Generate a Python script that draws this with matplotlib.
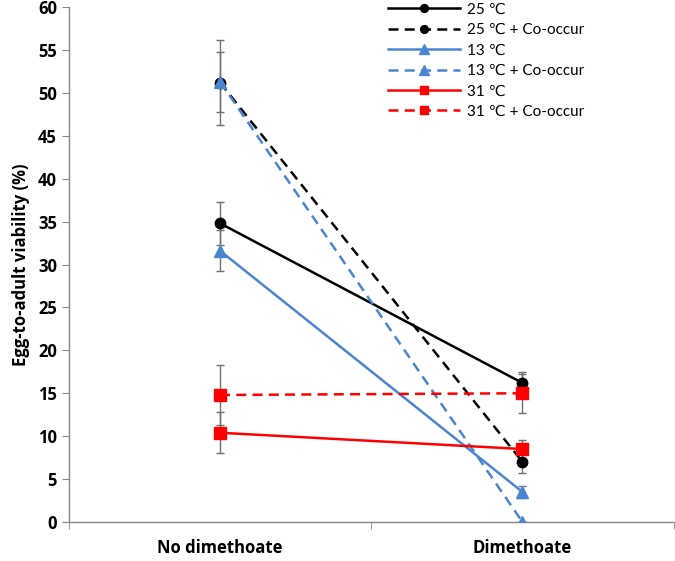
import matplotlib.pyplot as plt
from matplotlib.ticker import FixedLocator

# data
categories = ["No dimethoate", "Dimethoate"]
labels = ["25 ℃", "25 ℃ + Co-occur", "13 ℃", "13 ℃ + Co-occur", "31 ℃", "31 ℃ + Co-occur"]
v25 = [34.8, 16.2]
e25 = [2.5, 1.3]
v25_co = [51.2, 7.0]
e25_co = [5.0, 1.3]
v13 = [31.6, 3.5]
e13 = [2.4, 0.7]
v13_co = [51.3, 0.0]
e13_co = [3.5, 0.0]
v31 = [10.4, 8.5]
e31 = [2.4, 1.0]
v31_co = [14.8, 15.0]
e31_co = [3.5, 2.3]

plt.rcParams["font.family"] = ["Open Sans", "DejaVu Sans"]

fig = plt.figure(figsize=(6.75, 5.61), dpi=100)
ax = fig.add_axes([0.102, 0.0695, 0.896, 0.918])

blue = "#4A86D0"
red = "#FF0000"
series = [
    (v25, e25, "black", "-", "o", 7.5),
    (v25_co, e25_co, "black", "--", "o", 7.5),
    (v13, e13, blue, "-", "^", 9),
    (v13_co, e13_co, blue, "--", "^", 9),
    (v31, e31, red, "-", "s", 8.5),
    (v31_co, e31_co, red, "--", "s", 8.5),
]
x = [0, 1]
for (vals, errs, col, ls, mk, ms), lab in zip(series, labels):
    ax.errorbar(x, vals, yerr=errs, fmt="none", ecolor="#707070",
                elinewidth=1, capsize=3, capthick=1, zorder=2)
    ax.plot(x, vals, color=col, linestyle=ls, linewidth=1.8, marker=mk,
            markersize=ms, label=lab, zorder=3,
            dashes=(4, 2.5) if ls == "--" else (None, None))

ax.set_xlim(-0.5, 1.5)
ax.set_ylim(0, 60)
ax.set_yticks(range(0, 61, 5))
ax.set_xticks(x)
ax.set_xticklabels(categories, fontsize=12, fontweight="bold")
ax.xaxis.set_minor_locator(FixedLocator([-0.5, 0.5, 1.5]))
ax.tick_params(axis="x", which="major", length=0, pad=12)
ax.tick_params(axis="x", which="minor", length=5, color="#888888", direction="out")
ax.tick_params(axis="y", length=5, color="#888888", direction="out", labelsize=12)
for t in ax.get_yticklabels():
    t.set_fontweight("bold")
ax.set_ylabel("Egg-to-adult viability (%)", fontsize=12, fontweight="bold", labelpad=6)

for s in ["top", "right"]:
    ax.spines[s].set_visible(False)
for s in ["left", "bottom"]:
    ax.spines[s].set_color("#888888")
    ax.spines[s].set_linewidth(1)

leg = ax.legend(loc="upper left", bbox_to_anchor=(0.505, 1.035), frameon=False,
                prop={"family": ["Lato", "DejaVu Sans"], "size": 11},
                handlelength=4.7, handletextpad=0.5,
                labelspacing=0.42, markerscale=0.75)

fig.savefig("out.png", dpi=100)
